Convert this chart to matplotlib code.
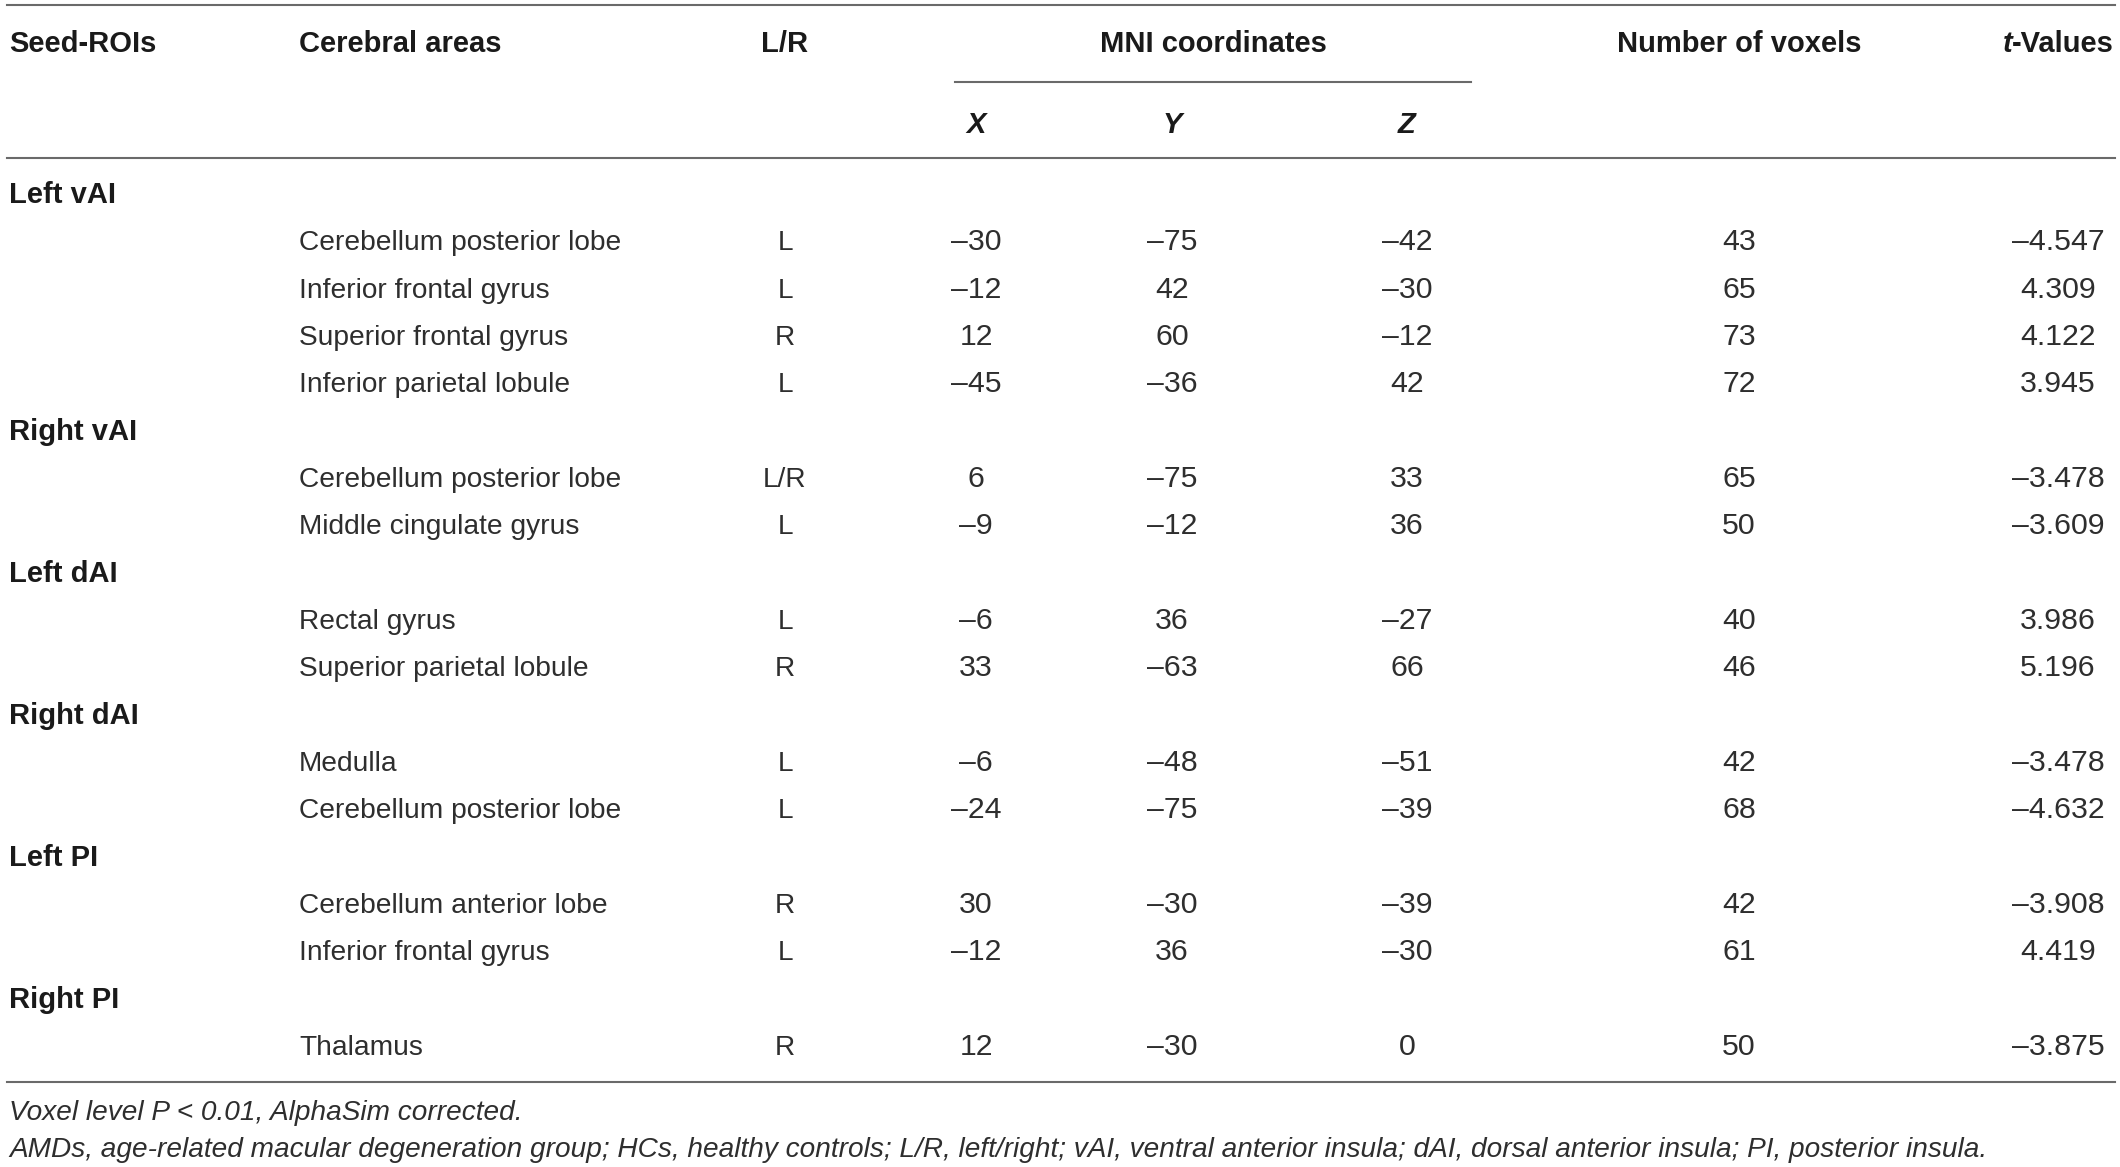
import matplotlib
matplotlib.use("Agg")
import matplotlib.pyplot as plt

# table content
seeds = ["Left vAI", "Right vAI", "Left dAI", "Right dAI", "Left PI", "Right PI"]
rows_per_seed = [4, 2, 2, 2, 2, 1]
areas = ["Cerebellum posterior lobe", "Inferior frontal gyrus",
         "Superior frontal gyrus", "Inferior parietal lobule",
         "Cerebellum posterior lobe", "Middle cingulate gyrus",
         "Rectal gyrus", "Superior parietal lobule",
         "Medulla", "Cerebellum posterior lobe",
         "Cerebellum anterior lobe", "Inferior frontal gyrus",
         "Thalamus"]
sides = ["L", "L", "R", "L", "L/R", "L", "L", "R", "L", "L", "R", "L", "R"]
mni_x = [-30, -12, 12, -45, 6, -9, -6, 33, -6, -24, 30, -12, 12]
mni_y = [-75, 42, 60, -36, -75, -12, 36, -63, -48, -75, -30, 36, -30]
mni_z = [-42, -30, -12, 42, 33, 36, -27, 66, -51, -39, -39, -30, 0]
voxels = [43, 65, 73, 72, 65, 50, 40, 46, 42, 68, 42, 61, 50]
t_values = [-4.547, 4.309, 4.122, 3.945, -3.478, -3.609, 3.986, 5.196,
            -3.478, -4.632, -3.908, 4.419, -3.875]
headers = ["Seed-ROIs", "Cerebral areas", "L/R", "MNI coordinates",
           "Number of voxels"]
coord_headers = ["X", "Y", "Z"]
footnotes = ["Voxel level P < 0.01, AlphaSim corrected.",
             "AMDs, age-related macular degeneration group; HCs, healthy "
             "controls; L/R, left/right; vAI, ventral anterior insula; dAI, "
             "dorsal anterior insula; PI, posterior insula."]

W, H = 2120, 1167
plt.rcParams['font.family'] = ['Liberation Sans', 'DejaVu Sans']
fig = plt.figure(figsize=(W / 100, H / 100), dpi=100)
ax = fig.add_axes([0, 0, 1, 1])
ax.set_xlim(0, W)
ax.set_ylim(H, 0)
ax.axis('off')

fs = 20.25      # body text
fs_num = 21.8   # numbers (reference digits run wide)
fs_head = 21
fs_note = 20.2
body = '#2e2e2e'
head = '#1a1a1a'
line_c = '#6a6a6a'
base = 10  # half cap height, px

col_seed, col_area, col_lr = 9, 299, 785
col_x, col_y, col_z = 976, 1172, 1407
col_vox, col_t = 1739, 2058


def fmt(v):
    return str(v).replace('-', '\u2013')


# rules
ax.plot([7, 2115], [5, 5], color=line_c, lw=1.5)
ax.plot([955, 1471], [82, 82], color=line_c, lw=1.5)
ax.plot([7, 2115], [158, 158], color=line_c, lw=1.5)
ax.plot([7, 2115], [1082, 1082], color=line_c, lw=1.5)

# header
hy = 42 + base
hk = dict(fontsize=fs_head, fontweight='bold', color=head, va='baseline')
ax.text(col_seed, hy, headers[0], **hk)
ax.text(col_area, hy, headers[1], **hk)
ax.text(col_lr, hy, headers[2], ha='center', **hk)
ax.text(1213, hy, headers[3], ha='center', **hk)
ax.text(col_vox, hy, headers[4], ha='center', **hk)
tv = ax.text(2114, hy, "-Values", ha='right', **hk)
ax.annotate("t", xy=(0, 0), xycoords=tv, fontsize=fs_head, fontweight='bold',
            fontstyle='italic', color=head, va='bottom', ha='right')
for cx, lab in zip([col_x, col_y, col_z], coord_headers):
    ax.text(cx, 123 + base, lab, fontstyle='italic', ha='center', **hk)

# body
y0, dy = 193, 47.33
k = 0
r = 0
nk = dict(fontsize=fs_num, color=body, va='baseline', ha='center')
for seed, n in zip(seeds, rows_per_seed):
    ax.text(col_seed, y0 + dy * k + base, seed, **hk)
    k += 1
    for _ in range(n):
        yy = y0 + dy * k + base
        ax.text(col_area, yy, areas[r], fontsize=fs, color=body, va='baseline')
        ax.text(col_lr, yy, sides[r], fontsize=fs, color=body, va='baseline', ha='center')
        ax.text(col_x, yy, fmt(mni_x[r]), **nk)
        ax.text(col_y, yy, fmt(mni_y[r]), **nk)
        ax.text(col_z, yy, fmt(mni_z[r]), **nk)
        ax.text(col_vox, yy, str(voxels[r]), **nk)
        ax.text(col_t, yy, fmt(f"{t_values[r]:.3f}"), **nk)
        k += 1
        r += 1

# footnotes
ax.text(col_seed, 1110 + base, footnotes[0], fontsize=fs_note, fontstyle='italic',
        color=body, va='baseline')
ax.text(col_seed, 1147 + base, footnotes[1], fontsize=fs_note, fontstyle='italic',
        color=body, va='baseline')

fig.savefig("out.png", dpi=100, facecolor='white')
